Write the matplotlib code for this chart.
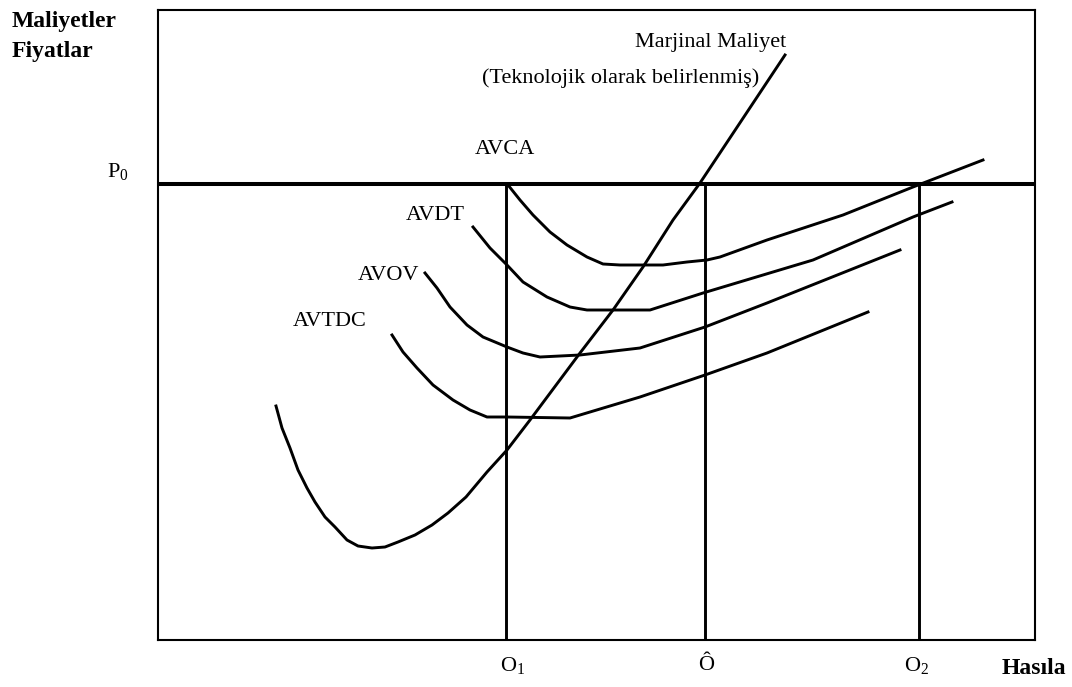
import matplotlib
matplotlib.use("Agg")
import matplotlib.pyplot as plt

plt.rcParams['font.family'] = ['Liberation Serif', 'DejaVu Serif']
plt.rcParams['mathtext.fontset'] = 'custom'
plt.rcParams['mathtext.rm'] = 'Liberation Serif'
plt.rcParams['mathtext.it'] = 'Liberation Serif'
plt.rcParams['mathtext.default'] = 'rm'

# ---- data (chart units: x = output, y = cost/price) ----
p0_level = 456
q_o1 = 348
q_ohat = 547
q_o2 = 761

mc_x = [118, 124, 132, 140, 149, 157, 167, 177, 189, 200, 214, 227, 240, 257, 274, 290,
        308, 329, 349, 372, 422, 455, 485, 515, 542, 627]
mc_y = [234, 212, 192, 170, 152, 138, 123, 113, 100, 94, 92, 93, 98, 105, 115, 127,
        143, 168, 190, 220, 287, 330, 373, 420, 457, 585]

avca_x = [350, 362, 375, 392, 409, 429, 445, 462, 505, 529, 549, 562, 609, 685, 755, 825]
avca_y = [455, 440, 425, 408, 395, 383, 376, 375, 375, 378, 380, 383, 400, 425, 453, 480]

avdt_x = [315, 332, 349, 365, 389, 412, 429, 492, 545, 655, 755, 794]
avdt_y = [413, 392, 375, 358, 343, 333, 330, 330, 347, 380, 423, 438]

avov_x = [267, 279, 292, 309, 325, 349, 365, 382, 422, 482, 547, 609, 742]
avov_y = [367, 352, 333, 315, 303, 293, 287, 283, 285, 292, 313, 337, 390]

avtdc_x = [234, 245, 259, 275, 295, 312, 329, 349, 412, 482, 547, 609, 710]
avtdc_y = [305, 288, 272, 255, 240, 230, 223, 223, 222, 243, 265, 287, 328]

curve_labels = ["AVCA", "AVDT", "AVOV", "AVTDC"]
curve_label_pos = [(347, 490), (277, 425), (231, 365), (172, 318)]

tick_labels = ["O$_1$", "Ô", "O$_2$"]
y_label_lines = ["Maliyetler", "Fiyatlar"]
x_label = "Hasıla"
price_label = "P$_0$"
mc_label = ["Marjinal Maliyet", "(Teknolojik olarak belirlenmiş)"]

# ---- figure ----
W, H = 1072, 687
fig = plt.figure(figsize=(W / 100, H / 100), dpi=100)
ax = fig.add_axes([158 / W, (H - 640) / H, 877 / W, 630 / H])
ax.set_xlim(0, 877)
ax.set_ylim(0, 630)
ax.set_xticks([])
ax.set_yticks([])
for s in ax.spines.values():
    s.set_linewidth(1.5)
    s.set_color('black')

lw = 2.1
ax.axhline(p0_level, color='black', lw=2.9)
for q in (q_o1, q_ohat, q_o2):
    ax.plot([q, q], [0, p0_level], color='black', lw=lw, solid_capstyle='butt')

ax.plot(mc_x, mc_y, color='black', lw=lw, solid_joinstyle='round')
for xs, ys in ((avca_x, avca_y), (avdt_x, avdt_y), (avov_x, avov_y), (avtdc_x, avtdc_y)):
    ax.plot(xs, ys, color='black', lw=lw, solid_joinstyle='round')

fs = 16
for lab, (x, y) in zip(curve_labels, curve_label_pos):
    ax.text(x, y, lab, ha='center', va='center', fontsize=fs)

ax.text(628, 598, mc_label[0], ha='right', va='center', fontsize=fs, clip_on=False)
ax.text(463, 562, mc_label[1], ha='center', va='center', fontsize=fs, clip_on=False)

for q, lab in zip((q_o1 + 7, q_ohat + 1, q_o2 - 2), tick_labels):
    ax.text(q, -25, lab, ha='center', va='center', fontsize=fs, clip_on=False)

ax.text(-40, 468, price_label, ha='center', va='center', fontsize=fs, clip_on=False)
ax.text(-146, 618, y_label_lines[0], ha='left', va='center', fontsize=17,
        fontweight='bold', clip_on=False)
ax.text(-146, 588, y_label_lines[1], ha='left', va='center', fontsize=17,
        fontweight='bold', clip_on=False)
ax.text(876, -28, x_label, ha='center', va='center', fontsize=17,
        fontweight='bold', clip_on=False)

fig.savefig("out.png", dpi=100)
